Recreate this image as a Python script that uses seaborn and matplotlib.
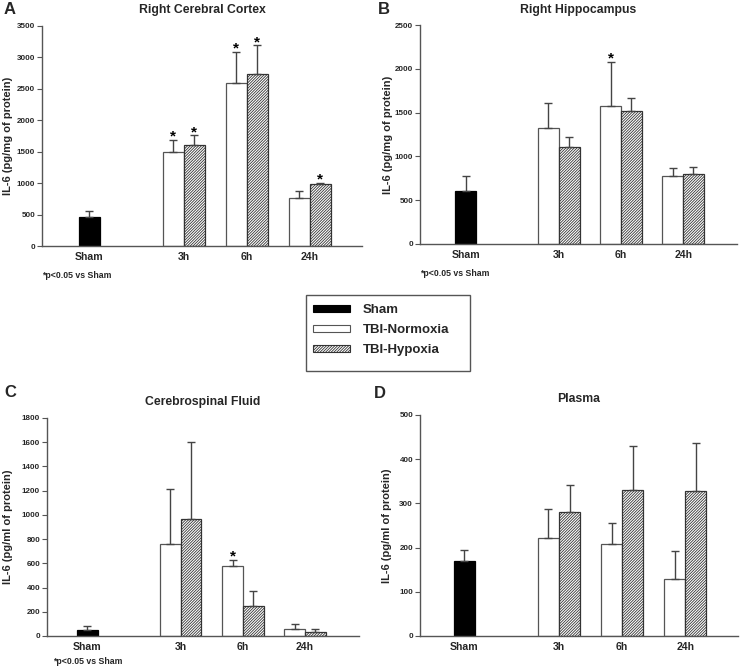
import numpy as np
import pandas as pd
import matplotlib
matplotlib.use("Agg")
import matplotlib.pyplot as plt
import matplotlib.patches as mpatches
import seaborn as sns

# ---------------- data ----------------
groups = ["Sham", "TBI-Normoxia", "TBI-Hypoxia"]
timepoints = ["3h", "6h", "24h"]
xtick_labels = ["Sham", "3h", "6h", "24h"]

titles = ["Right Cerebral Cortex", "Right Hippocampus", "Cerebrospinal Fluid", "Plasma"]
panel_letters = ["A", "B", "C", "D"]
ylabels = ["IL-6 (pg/mg of protein)", "IL-6 (pg/mg of protein)",
           "IL-6 (pg/ml of protein)", "IL-6 (pg/ml of protein)"]
footnote = "*p<0.05 vs Sham"

# A: Right cerebral cortex
cortex_sham = [455]
cortex_sham_sem = [107]
cortex_norm = [1490, 2590, 770]
cortex_norm_sem = [196, 500, 105]
cortex_hyp = [1600, 2730, 980]
cortex_hyp_sem = [160, 460, 22]
cortex_norm_sig = [True, True, False]
cortex_hyp_sig = [True, True, True]
cortex_yticks = [0, 500, 1000, 1500, 2000, 2500, 3000, 3500]

# B: Right hippocampus
hippo_sham = [609]
hippo_sham_sem = [171]
hippo_norm = [1320, 1575, 780]
hippo_norm_sem = [290, 503, 91]
hippo_hyp = [1104, 1522, 799]
hippo_hyp_sem = [114, 145, 76]
hippo_norm_sig = [False, True, False]
hippo_hyp_sig = [False, False, False]
hippo_yticks = [0, 500, 1000, 1500, 2000, 2500]

# C: Cerebrospinal fluid
csf_sham = [52]
csf_sham_sem = [28]
csf_norm = [760, 575, 58]
csf_norm_sem = [454, 55, 41]
csf_hyp = [968, 248, 33]
csf_hyp_sem = [631, 120, 25]
csf_norm_sig = [False, True, False]
csf_hyp_sig = [False, False, False]
csf_yticks = [0, 200, 400, 600, 800, 1000, 1200, 1400, 1600, 1800]

# D: Plasma
plasma_sham = [169]
plasma_sham_sem = [25]
plasma_norm = [222, 209, 130]
plasma_norm_sem = [66, 46, 62]
plasma_hyp = [281, 330, 328]
plasma_hyp_sem = [60, 99, 109]
plasma_norm_sig = [False, False, False]
plasma_hyp_sig = [False, False, False]
plasma_yticks = [0, 100, 200, 300, 400, 500]

panels = [
    (cortex_sham, cortex_sham_sem, cortex_norm, cortex_norm_sem, cortex_hyp, cortex_hyp_sem,
     cortex_norm_sig, cortex_hyp_sig, cortex_yticks),
    (hippo_sham, hippo_sham_sem, hippo_norm, hippo_norm_sem, hippo_hyp, hippo_hyp_sem,
     hippo_norm_sig, hippo_hyp_sig, hippo_yticks),
    (csf_sham, csf_sham_sem, csf_norm, csf_norm_sem, csf_hyp, csf_hyp_sem,
     csf_norm_sig, csf_hyp_sig, csf_yticks),
    (plasma_sham, plasma_sham_sem, plasma_norm, plasma_norm_sem, plasma_hyp, plasma_hyp_sem,
     plasma_norm_sig, plasma_hyp_sig, plasma_yticks),
]

# ---------------- layout / style ----------------
W, H = 741, 668
sns.set_theme(style="white")
plt.rcParams["font.family"] = ["Liberation Sans", "DejaVu Sans"]
plt.rcParams["font.weight"] = "bold"
plt.rcParams["hatch.color"] = "#3a3a3a"
plt.rcParams["hatch.linewidth"] = 0.6
HATCH = "////////////"

fig = plt.figure(figsize=(W / 100, H / 100), dpi=100)
fig.patch.set_facecolor("white")

# axes boxes in pixels: left, right, top, bottom
boxes = [(42, 362, 26, 246), (420, 737, 25, 244), (47, 359, 418, 636), (420, 738, 415, 636)]
xlims = [(-2.24, 13.0), (-2.2, 13.1), (-1.95, 13.1), (-2.1, 13.0)]
ylabel_right_px = [13, 393, 13, 392]
letter_pos_px = [(4, 10), (378, 10), (4, 393), (374, 394)]
foot_pos_px = [(42, 275), (420, 273), (53, 662), None]

# bar slots (in bar-width units): sham, then pairs for each time point
sham_slot = [0]
norm_slots = [4, 7, 10]
hyp_slots = [5, 8, 11]

palette = {"Sham": "black", "TBI-Normoxia": "white", "TBI-Hypoxia": "white"}
edgecol = {"Sham": "black", "TBI-Normoxia": "#555555", "TBI-Hypoxia": "#333333"}
err_col = "#444444"

for i, (sham, sham_sem, norm, norm_sem, hyp, hyp_sem, nsig, hsig, yticks) in enumerate(panels):
    l, r, t, b = boxes[i]
    ax = fig.add_axes([l / W, 1 - b / H, (r - l) / W, (b - t) / H])

    df = pd.DataFrame({
        "pos": sham_slot + norm_slots + hyp_slots,
        "value": sham + norm + hyp,
        "sem": sham_sem + norm_sem + hyp_sem,
        "group": [groups[0]] * len(sham) + [groups[1]] * len(norm) + [groups[2]] * len(hyp),
        "sig": [False] * len(sham) + nsig + hsig,
    })

    sns.barplot(data=df, x="pos", y="value", hue="group", hue_order=groups,
                palette=palette, native_scale=True, dodge=False, width=1.0,
                errorbar=None, legend=False, ax=ax, linewidth=0.9, zorder=2)

    for cont, g in zip(ax.containers, groups):
        for p in cont.patches:
            p.set_edgecolor(edgecol[g])
            p.set_linewidth(0.9)
            if g == "TBI-Hypoxia":
                p.set_hatch(HATCH)

    ax.errorbar(df["pos"], df["value"], yerr=[np.zeros(len(df)), df["sem"]],
                fmt="none", ecolor=err_col, elinewidth=1.0, capsize=3, capthick=1.0, zorder=3)

    for _, row in df[df["sig"]].iterrows():
        ax.annotate("*", (row["pos"], row["value"] + row["sem"]), xytext=(0, -0.5),
                    textcoords="offset points", ha="center", va="baseline",
                    fontsize=11, fontweight="bold", color="black")

    ax.set_xlim(*xlims[i])
    ax.set_ylim(yticks[0], yticks[-1])
    ax.set_yticks(yticks)
    ax.set_yticklabels([str(v) for v in yticks], fontsize=5.8, fontweight="bold")
    tick_pos = [sham_slot[0]] + [(a + c) / 2 for a, c in zip(norm_slots, hyp_slots)]
    ax.set_xticks(tick_pos)
    ax.set_xticklabels(xtick_labels, fontsize=7.6, fontweight="bold")
    ax.tick_params(axis="x", length=0, pad=4)
    ax.tick_params(axis="y", length=3.5, width=0.8, direction="out", pad=1.5, color="#555555", left=True)
    ax.set_xlabel("")
    ax.set_ylabel(ylabels[i], fontsize=8.0, fontweight="bold")
    ax.yaxis.set_label_coords(-(l - ylabel_right_px[i]) / (r - l), 0.5)
    ax.set_title(titles[i], fontsize=8.8, fontweight="bold", pad=9)
    for s in ["top", "right"]:
        ax.spines[s].set_visible(False)
    for s in ["left", "bottom"]:
        ax.spines[s].set_color("#555555")
        ax.spines[s].set_linewidth(1.0)
    ax.set_facecolor("white")

    lx, ly = letter_pos_px[i]
    fig.text(lx / W, 1 - ly / H, panel_letters[i], fontsize=12, fontweight="bold",
             ha="left", va="center")
    if foot_pos_px[i] is not None:
        fx, fy = foot_pos_px[i]
        fig.text(fx / W, 1 - fy / H, footnote, fontsize=6.3, fontweight="bold",
                 ha="left", va="center")

# legend (frame drawn separately to match its asymmetric padding)
frame_px = (306, 470, 295, 371)
fl, fr, ft, fb = frame_px
fig.patches.append(mpatches.Rectangle((fl / W, 1 - fb / H), (fr - fl) / W, (fb - ft) / H,
                                      transform=fig.transFigure, facecolor="white",
                                      edgecolor="#555555", linewidth=1.0, zorder=0))
handles = [
    mpatches.Patch(facecolor="black", edgecolor="black", linewidth=0.8, label=groups[0]),
    mpatches.Patch(facecolor="white", edgecolor="#555555", linewidth=0.8, label=groups[1]),
    mpatches.Patch(facecolor="white", edgecolor="#333333", linewidth=0.8, hatch=HATCH,
                   label=groups[2]),
]
leg = fig.legend(handles=handles, loc="upper left", bbox_to_anchor=(313 / W, 1 - 304 / H),
                 frameon=False, fontsize=9.5,
                 handlelength=2.8, handleheight=0.4, handletextpad=0.95,
                 labelspacing=0.62, borderpad=0, borderaxespad=0)
for txt in leg.get_texts():
    txt.set_fontweight("bold")

fig.savefig("out.png", dpi=100, facecolor="white")
